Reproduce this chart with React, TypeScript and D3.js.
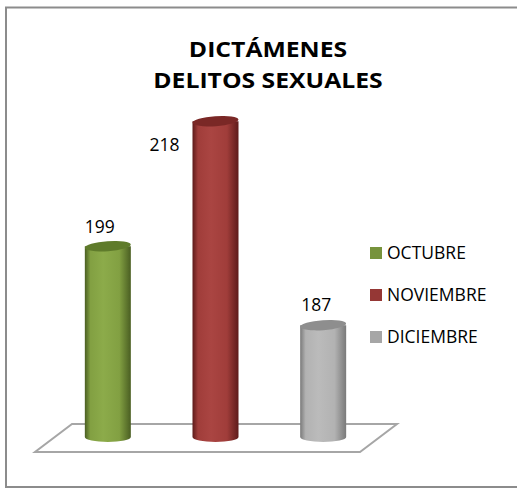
import React from "react";
import * as d3 from "d3";

const categories = ["OCTUBRE", "NOVIEMBRE", "DICIEMBRE"];
const values = [199, 218, 187];
const titleLines = ["DICTÁMENES", "DELITOS SEXUALES"];

const W = 517;
const H = 489;
const FONT = "'Open Sans', 'Liberation Sans', sans-serif";

const palette = [
  { edge: "#4a5e22", mid: "#82a042", light: "#8cab4a", top: "#5f7b2b", legend: "#77933c" },
  { edge: "#5e1b1a", mid: "#a03d3a", light: "#aa4542", top: "#7a2826", legend: "#953735" },
  { edge: "#7a7a7a", mid: "#b2b2b2", light: "#bbbbbb", top: "#8e8e8e", legend: "#a6a6a6" },
];
// label placement relative to the top of each cylinder (layout, not data)
const labelDx = [-8, -51, -7];
const labelDy = [-13, 30, -14];

export default function App() {
  const x = d3.scaleBand<string>().domain(categories).range([54, 377]).padding(0);
  const y = d3.scaleLinear().domain([170, 220]).range([437, 108]);
  const barW = 46;
  const ry = 5;
  const legendY = d3.scalePoint<string>().domain(categories).range([253, 337]);

  return (
    <svg
      width={W}
      height={H}
      style={{ position: "absolute", left: 0, top: 0, background: "#fff" }}
    >
      <defs>
        {palette.map((p, i) => (
          <linearGradient key={i} id={`g${i}`} x1="0" x2="1" y1="0" y2="0">
            <stop offset="0" stopColor={p.edge} />
            <stop offset="0.12" stopColor={p.mid} />
            <stop offset="0.4" stopColor={p.light} />
            <stop offset="0.75" stopColor={p.mid} />
            <stop offset="1" stopColor={p.edge} />
          </linearGradient>
        ))}
      </defs>
      <rect x={6} y={7.5} width={520} height={479.5} fill="#fff" stroke="#8c8c8c" strokeWidth={2} />
      <g transform="translate(268,0) scale(1.15,1)">
        {titleLines.map((t, i) => (
          <text
            key={t}
            x={0}
            y={57 + i * 31}
            textAnchor="middle"
            fontFamily={FONT}
            fontWeight="bold"
            fontSize={21.5}
            fill="#000"
          >
            {t}
          </text>
        ))}
      </g>
      <polygon
        points={[
          [72, 424],
          [397, 424],
          [360, 452],
          [35, 452],
        ]
          .map((p) => p.join(","))
          .join(" ")}
        fill="#fff"
        stroke="#a6a6a6"
        strokeWidth={2}
      />
      {categories.map((c, i) => {
        const cx = (x(c) as number) + x.bandwidth() / 2;
        const yTop = y(values[i]);
        const yBase = y(170);
        const x0 = cx - barW / 2;
        const p = palette[i];
        const bodyPath = `M${x0},${yTop} L${x0},${yBase} A${barW / 2},${ry} 0 0 0 ${x0 + barW},${yBase} L${x0 + barW},${yTop} Z`;
        return (
          <g key={c}>
            <path d={bodyPath} fill={`url(#g${i})`} />
            <ellipse
              cx={cx}
              cy={yTop}
              rx={barW / 2}
              ry={ry}
              fill={p.top}
              transform={`rotate(-4 ${cx} ${yTop})`}
            />
            <text
              x={cx + labelDx[i]}
              y={yTop + labelDy[i]}
              textAnchor="middle"
              fontFamily={FONT}
              fontSize={17.5}
              fill="#000"
            >
              {values[i]}
            </text>
          </g>
        );
      })}
      {categories.map((c, i) => (
        <g key={c} transform={`translate(370, ${legendY(c)})`}>
          <rect x={0} y={-6} width={12} height={12} fill={palette[i].legend} />
          <text x={17} y={6} fontFamily={FONT} fontSize={17.5} fill="#000">
            {c}
          </text>
        </g>
      ))}
    </svg>
  );
}
